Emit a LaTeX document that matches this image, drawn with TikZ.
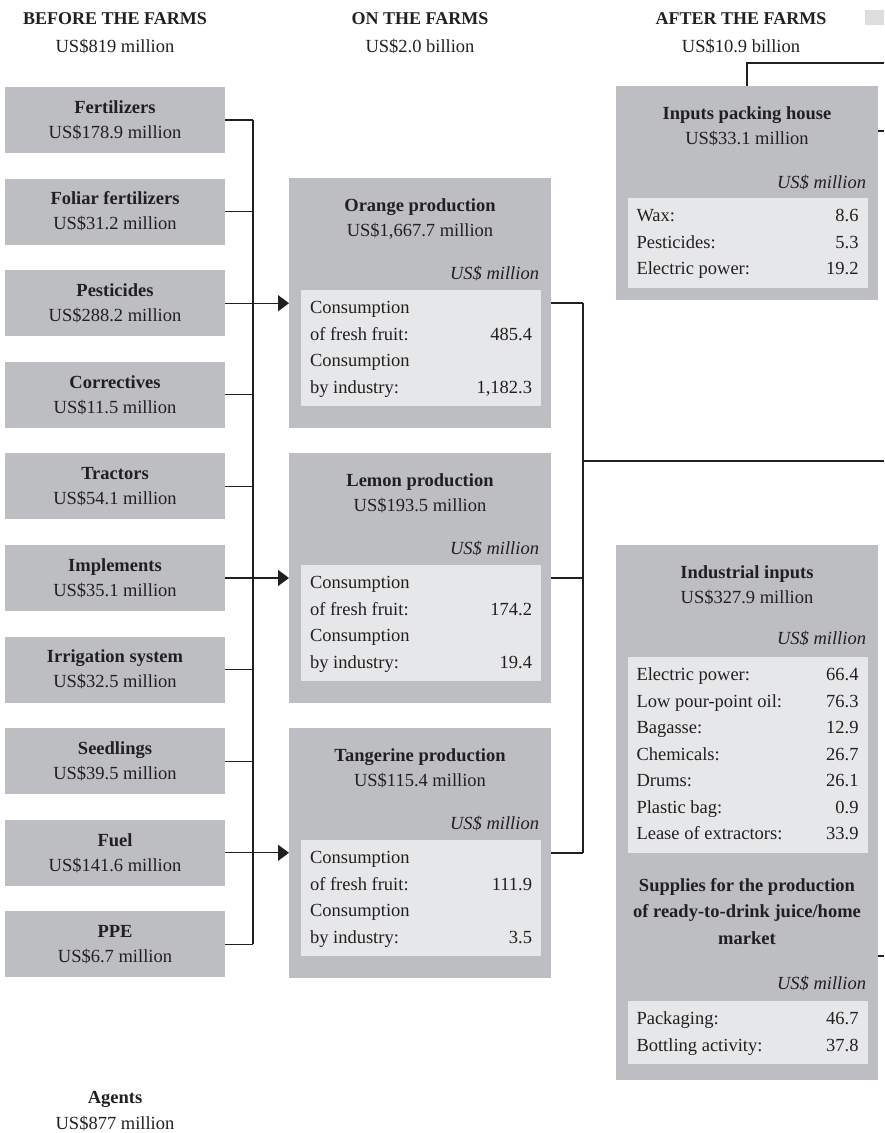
\documentclass[tikz,border=0pt]{standalone}
\usepackage{fontspec}
\setmainfont{Liberation Serif}
\usetikzlibrary{arrows.meta}
\definecolor{ink}{HTML}{231F20}
\definecolor{boxgray}{HTML}{BDBEC1}
\definecolor{panelgray}{HTML}{E6E7E8}
\definecolor{swatchgray}{HTML}{DCDDDF}
% two-column value table: label left, amount right
\newcommand{\valtab}[1]{\begin{tabular*}{222pt}{@{}l@{\extracolsep{\fill}}r@{}}#1\end{tabular*}}

\begin{document}
\begin{tikzpicture}[x=1pt,y=-1pt,
  font=\fontsize{18.5}{25}\selectfont,
  txt/.style={text=ink, inner sep=0pt, outer sep=0pt, anchor=base},
  inputbox/.style={fill=boxgray, text=ink, inner sep=0pt, outer sep=0pt,
    minimum width=220, minimum height=66, align=center,
    execute at begin node={\rule{0pt}{19pt}}},
  panel/.style={fill=boxgray, inner sep=0pt, outer sep=0pt, minimum width=262},
  tabbox/.style={fill=panelgray, text=ink, inner xsep=9pt, inner ysep=5pt, outer sep=0pt,
    anchor=north, font=\fontsize{18.5}{26.5}\selectfont},
  unit/.style={txt, anchor=base east, font=\fontsize{18.5}{25}\selectfont\itshape},
  conn/.style={draw=ink, line width=1.2pt},
  arr/.style={conn, -{Triangle[length=11pt,width=16pt]}}]

\useasboundingbox (0,0) rectangle (884,1133);

% column headings
\node[txt, font=\fontsize{18}{25}\selectfont\bfseries] (hBefore) at (115,24) {BEFORE THE FARMS};
\node[txt] (hBeforeV) at (115,52) {US\$819 million};
\node[txt, font=\fontsize{18}{25}\selectfont\bfseries] (hOn) at (420,24) {ON THE FARMS};
\node[txt] (hOnV) at (420,52) {US\$2.0 billion};
\node[txt, font=\fontsize{18}{25}\selectfont\bfseries] (hAfter) at (741,24) {AFTER THE FARMS};
\node[txt] (hAfterV) at (741,52) {US\$10.9 billion};
\node[fill=swatchgray, inner sep=0pt, minimum width=19, minimum height=15] (swatch) at (874.5,17.5) {};

% inputs before the farms
\node[inputbox] (fert)  at (115,120.0) {\textbf{Fertilizers}\\US\$178.9 million};
\node[inputbox] (foli)  at (115,211.6) {\textbf{Foliar fertilizers}\\US\$31.2 million};
\node[inputbox] (pest)  at (115,303.2) {\textbf{Pesticides}\\US\$288.2 million};
\node[inputbox] (corr)  at (115,394.8) {\textbf{Correctives}\\US\$11.5 million};
\node[inputbox] (tract) at (115,486.4) {\textbf{Tractors}\\US\$54.1 million};
\node[inputbox] (impl)  at (115,578.0) {\textbf{Implements}\\US\$35.1 million};
\node[inputbox] (irri)  at (115,669.6) {\textbf{Irrigation system}\\US\$32.5 million};
\node[inputbox] (seed)  at (115,761.2) {\textbf{Seedlings}\\US\$39.5 million};
\node[inputbox] (fuel)  at (115,852.8) {\textbf{Fuel}\\US\$141.6 million};
\node[inputbox] (ppe)   at (115,944.4) {\textbf{PPE}\\US\$6.7 million};

% production on the farms
\node[panel, minimum height=250] (orange) at (420,303) {};
\node[txt, font=\fontsize{18.5}{25}\selectfont\bfseries] (orangeT) at (420,211) {Orange production};
\node[txt] (orangeV) at (420,236) {US\$1,667.7 million};
\node[unit] (orangeU) at (539,279) {US\$ million};
\node[tabbox] (orangeTab) at (421,290) {\valtab{Consumption & \\ of fresh fruit: & 485.4\\ Consumption & \\ by industry: & 1,182.3}};

\node[panel, minimum height=250] (lemon) at (420,578) {};
\node[txt, font=\fontsize{18.5}{25}\selectfont\bfseries] (lemonT) at (420,486) {Lemon production};
\node[txt] (lemonV) at (420,511) {US\$193.5 million};
\node[unit] (lemonU) at (539,554) {US\$ million};
\node[tabbox] (lemonTab) at (421,565) {\valtab{Consumption & \\ of fresh fruit: & 174.2\\ Consumption & \\ by industry: & 19.4}};

\node[panel, minimum height=250] (tang) at (420,853) {};
\node[txt, font=\fontsize{18.5}{25}\selectfont\bfseries] (tangT) at (420,761) {Tangerine production};
\node[txt] (tangV) at (420,786) {US\$115.4 million};
\node[unit] (tangU) at (539,829) {US\$ million};
\node[tabbox] (tangTab) at (421,840) {\valtab{Consumption & \\ of fresh fruit: & 111.9\\ Consumption & \\ by industry: & 3.5}};

% after the farms
\node[panel, minimum height=214] (pack) at (747,193) {};
\node[txt, font=\fontsize{18.5}{25}\selectfont\bfseries] (packT) at (747,119) {Inputs packing house};
\node[txt] (packV) at (747,144) {US\$33.1 million};
\node[unit] (packU) at (866,188) {US\$ million};
\node[tabbox] (packTab) at (747.5,198) {\valtab{Wax: & 8.6\\ Pesticides: & 5.3\\ Electric power: & 19.2}};

\node[panel, minimum height=535] (ind) at (747,812.5) {};
\node[txt, font=\fontsize{18.5}{25}\selectfont\bfseries] (indT) at (747,578) {Industrial inputs};
\node[txt] (indV) at (747,603) {US\$327.9 million};
\node[unit] (indU) at (866,644) {US\$ million};
\node[tabbox] (indTab) at (747.5,657) {\valtab{Electric power: & 66.4\\ Low pour-point oil: & 76.3\\ Bagasse: & 12.9\\ Chemicals: & 26.7\\ Drums: & 26.1\\ Plastic bag: & 0.9\\ Lease of extractors: & 33.9}};
\node[txt, font=\fontsize{18.5}{26.5}\selectfont\bfseries, align=center, anchor=north] (supT) at (747,878)
  {Supplies for the production\\of ready-to-drink juice/home\\market};
\node[unit] (supU) at (866,989) {US\$ million};
\node[tabbox] (supTab) at (747.5,1001) {\valtab{Packaging: & 46.7\\ Bottling activity: & 37.8}};

% agents
\node[txt, font=\fontsize{18.5}{25}\selectfont\bfseries] (agT) at (115,1103) {Agents};
\node[txt] (agV) at (115,1129) {US\$877 million};

% input bus
\coordinate (busL) at (253,0);
\foreach \b in {fert,foli,pest,corr,tract,impl,irri,seed,fuel,ppe}
  \draw[conn] (\b.east) -- (\b.east -| busL);
\draw[conn] (fert.east -| busL) -- (ppe.east -| busL);
\draw[arr] (pest.east) -- (pest.east -| orange.west);
\draw[arr] (impl.east) -- (impl.east -| lemon.west);
\draw[arr] (fuel.east) -- (fuel.east -| tang.west);

% output bus
\coordinate (busR) at (583,0);
\foreach \b in {orange,lemon,tang}
  \draw[conn] (\b.east) -- (\b.east -| busR);
\draw[conn] (orange.east -| busR) -- (tang.east -| busR);
\coordinate (exitMid) at (884,461);
\draw[conn] (exitMid -| busR) -- (exitMid);

% links leaving the right edge
\coordinate (exitTop) at (884,63);
\draw[conn] (pack.north) |- (exitTop);
\coordinate (exitPack) at (884,131);
\draw[conn] (pack.east |- exitPack) -- (exitPack);
\coordinate (exitInd) at (884,956);
\draw[conn] (ind.east |- exitInd) -- (exitInd);
\end{tikzpicture}
\end{document}
